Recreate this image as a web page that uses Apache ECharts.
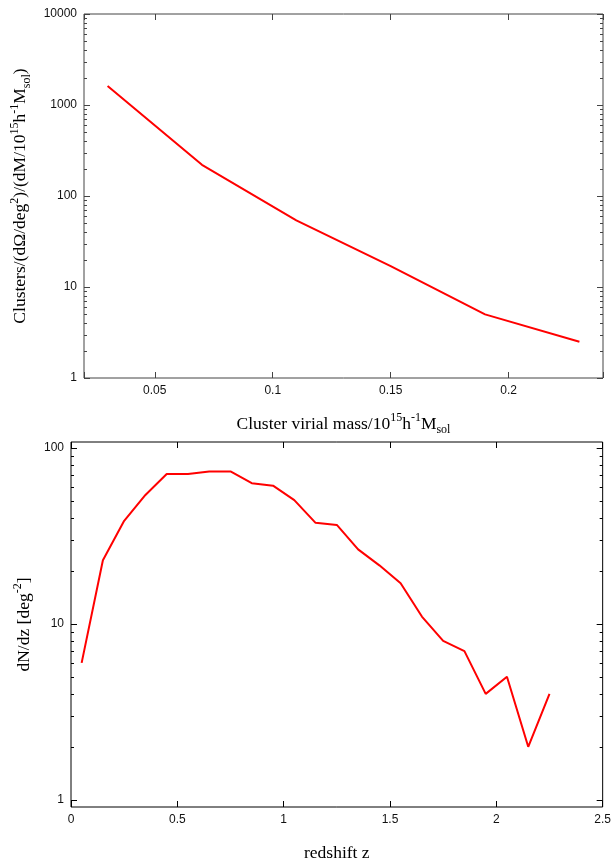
<!DOCTYPE html>
<html><head><meta charset="utf-8">
<script src="https://cdn.jsdelivr.net/npm/echarts@6/dist/echarts.min.js"></script>
<style>html,body{margin:0;padding:0;background:#fff}#c{width:614px;height:863px}</style>
</head><body><div id="c"></div>
<script>
// ---- data ----
const massX = [0.03, 0.07, 0.11, 0.15, 0.19, 0.23];
const massCounts = [1620, 220, 54, 17, 5, 2.5];
const redshiftZ = [0.05, 0.15, 0.25, 0.35, 0.45, 0.55, 0.65, 0.75, 0.85, 0.95, 1.05, 1.15,
                   1.25, 1.35, 1.45, 1.55, 1.65, 1.75, 1.85, 1.95, 2.05, 2.15, 2.25];
const dNdz = [6, 23, 38.5, 54, 71, 71, 73.5, 73.5, 63, 61, 50.5, 37.5,
              36.5, 26.5, 21.5, 17, 11, 8, 7, 4, 5, 2, 4];
const topYMajor = [1, 10, 100, 1000, 10000];
const topYMinor = [2,3,4,5,6,7,8,9, 20,30,40,50,60,70,80,90, 200,300,400,500,600,700,800,900, 2000,3000,4000,5000,6000,7000,8000,9000];
const botYMajor = [1, 10, 100];
const botYMinor = [2,3,4,5,6,7,8,9, 20,30,40,50,60,70,80,90];

const SANS = 'Liberation Sans';
const SERIF = 'Liberation Serif';

function isPow10(v) { const l = Math.log10(v); return Math.abs(l - Math.round(l)) < 1e-6; }
function logLabel(v) { return isPow10(v) ? String(Math.round(v)) : ''; }

function richName(size) {
  return {
    n: {fontFamily: SERIF, fontSize: size, color: '#000', lineHeight: 24},
    sup: {fontFamily: SERIF, fontSize: 12, color: '#000', verticalAlign: 'top', lineHeight: 24},
    sub: {fontFamily: SERIF, fontSize: 12, color: '#000', verticalAlign: 'bottom', lineHeight: 24}
  };
}

function tickData(xRef, majors, minors) {
  return majors.map(v => [xRef, v, 6]).concat(minors.map(v => [xRef, v, 3]));
}
function makeTickRender(color) {
  return function (params, api) {
    const cs = params.coordSys;
    const y = Math.round(api.coord([api.value(0), api.value(1)])[1]) + 0.5;
    const len = api.value(2);
    return {type: 'group', children: [
      {type: 'line', shape: {x1: cs.x, y1: y, x2: cs.x + len, y2: y}, style: {stroke: color, lineWidth: 1}},
      {type: 'line', shape: {x1: cs.x + cs.width, y1: y, x2: cs.x + cs.width - len, y2: y}, style: {stroke: color, lineWidth: 1}}
    ]};
  };
}

const topColor = '#444';
const botColor = '#000';

function xAxes(grid, min, max, interval, color, name) {
  const base = {
    gridIndex: grid, type: 'value', min: min, max: max,
    axisLine: {show: false}, splitLine: {show: false},
    axisTick: {show: true, inside: true, length: 6, lineStyle: {color: color},
      interval: (i, v) => Math.abs(v / 0.05 - Math.round(v / 0.05)) < 1e-6}
  };
  if (interval) base.interval = interval;
  const bottom = Object.assign({}, base, {
    position: 'bottom',
    axisLabel: {show: true, margin: 7, fontFamily: SANS, fontSize: 12, color: '#111',
      formatter: v => (Math.abs(v / 0.05 - Math.round(v / 0.05)) < 1e-6 ? String(+v.toFixed(3)) : '')},
    name: name, nameLocation: 'middle', nameGap: 34,
    nameTextStyle: {rich: richName(17.5)}
  });
  const top = Object.assign({}, base, {position: 'top', axisLabel: {show: false}});
  return [bottom, top];
}

const chart = echarts.init(document.getElementById('c'));
const option = {
  animation: false,
  backgroundColor: '#fff',
  grid: [
    {left: 84, top: 14, width: 519, height: 364, show: true, borderColor: topColor, borderWidth: 1, backgroundColor: 'transparent'},
    {left: 71, top: 442, width: 532, height: 365, show: true, borderColor: botColor, borderWidth: 1, backgroundColor: 'transparent'}
  ],
  xAxis: [].concat(
    xAxes(0, 0.02, 0.24, null, topColor, '{n|Cluster virial mass/10}{sup|15}{n|h}{sup|-1}{n|M}{sub|sol}'),
    xAxes(1, 0, 2.5, 0.5, botColor, '{n|redshift z}')
  ),
  yAxis: [
    {gridIndex: 0, type: 'log', logBase: 10, min: 1, max: 10000,
     axisLine: {show: false}, axisTick: {show: false}, splitLine: {show: false}, minorTick: {show: false},
     axisLabel: {margin: 7, fontFamily: SANS, fontSize: 12, color: '#111', formatter: logLabel},
     name: '{n|Clusters/(dΩ/deg}{sup|2}{n|)/(dM/10}{sup|15}{n|h}{sup|-1}{n|M}{sub|sol}{n|)}',
     nameLocation: 'middle', nameGap: 45, nameTextStyle: {rich: richName(17.5)}},
    {gridIndex: 1, type: 'log', logBase: 10, min: 0.91, max: 108,
     axisLine: {show: false}, axisTick: {show: false}, splitLine: {show: false}, minorTick: {show: false},
     axisLabel: {margin: 7, fontFamily: SANS, fontSize: 12, color: '#111', formatter: logLabel,
                 showMinLabel: false, showMaxLabel: false},
     name: '{n|dN/dz [deg}{sup|-2}{n|]}',
     nameLocation: 'middle', nameGap: 32, nameTextStyle: {rich: richName(17.5)}}
  ],
  series: [
    {type: 'line', xAxisIndex: 0, yAxisIndex: 0, symbol: 'none', silent: true,
     data: massX.map((x, i) => [x, massCounts[i]]),
     lineStyle: {color: '#ff0000', width: 2}},
    {type: 'line', xAxisIndex: 2, yAxisIndex: 1, symbol: 'none', silent: true,
     data: redshiftZ.map((x, i) => [x, dNdz[i]]),
     lineStyle: {color: '#ff0000', width: 2}},
    {type: 'custom', xAxisIndex: 0, yAxisIndex: 0, silent: true, clip: false,
     renderItem: makeTickRender(topColor), data: tickData(0.1, topYMajor, topYMinor)},
    {type: 'custom', xAxisIndex: 2, yAxisIndex: 1, silent: true, clip: false,
     renderItem: makeTickRender(botColor), data: tickData(1, botYMajor, botYMinor)}
  ]
};
chart.setOption(option);
</script>
</body></html>
